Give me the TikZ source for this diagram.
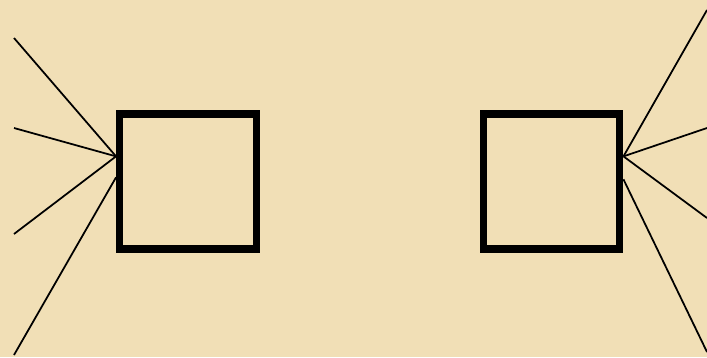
\documentclass[tikz,border=0pt]{standalone}
\usepackage{xcolor}
\usepackage{tikz}
\usetikzlibrary{calc}
\definecolor{parchment}{RGB}{241,223,182}
\tikzset{
  framebox/.style={
    rectangle, draw=black, line width=6.2pt,
    minimum width=4.1cm, minimum height=4.05cm,
    inner sep=0pt
  },
  spoke/.style={
    line width=1.5pt, color=black
  },
}
\begin{document}
\begin{tikzpicture}[x=0.03cm, y=-0.03cm]
  \fill[parchment] (0,0) rectangle (707,357);
  \useasboundingbox (0,0) rectangle (707,357);

  \node[framebox] (lbox) at (188,181.5) {};
  \node[framebox] (rbox) at (551.5,181.5) {};

  % hubs on the outer sides
  \coordinate (lhub) at ($(lbox.north west)+(0,46)$);
  \coordinate (llow) at ($(lbox.north west)+(0,67)$);
  \coordinate (rhub) at ($(rbox.north east)+(0,46)$);
  \coordinate (rlow) at ($(rbox.north east)+(0,69)$);

  \coordinate (l1) at (14,38);
  \coordinate (l2) at (14,128);
  \coordinate (l3) at (14,234);
  \coordinate (l4) at (14,355);
  \coordinate (r1) at (707,10);
  \coordinate (r2) at (707,128);
  \coordinate (r3) at (707,218);
  \coordinate (r4) at (707,352);

  \draw[spoke] (l1) -- (lhub);
  \draw[spoke] (l2) -- (lhub);
  \draw[spoke] (l3) -- (lhub);
  \draw[spoke] (l4) -- (llow);

  \draw[spoke] (rhub) -- (r1);
  \draw[spoke] (rhub) -- (r2);
  \draw[spoke] (rhub) -- (r3);
  \draw[spoke] (rlow) -- (r4);
\end{tikzpicture}
\end{document}
